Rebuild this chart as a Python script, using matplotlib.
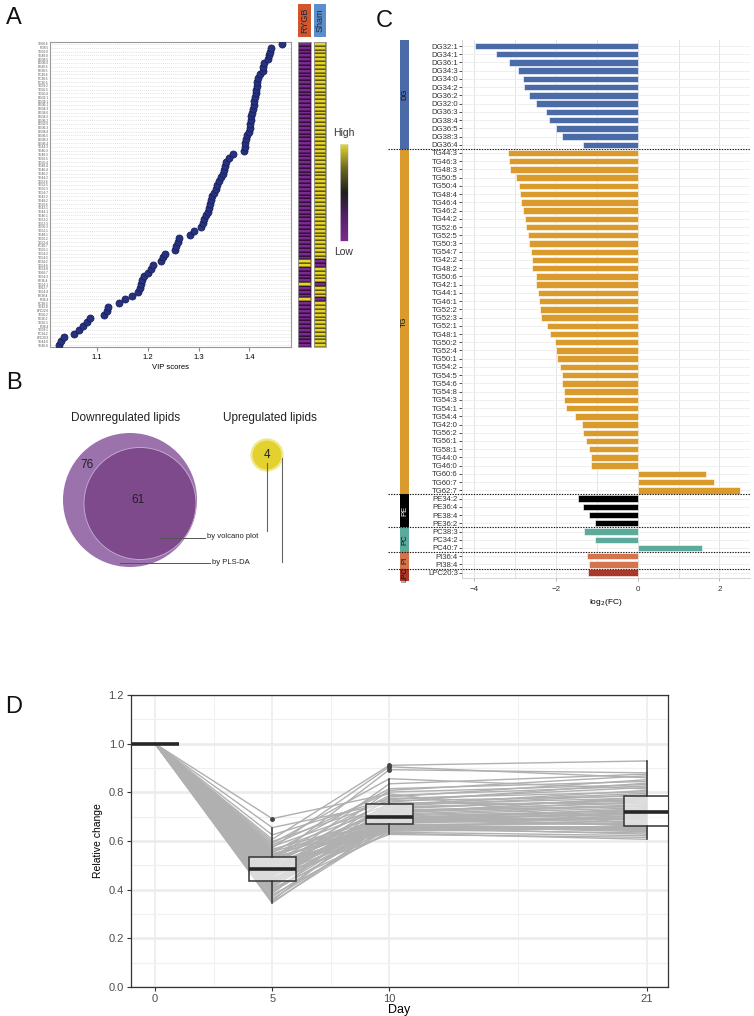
import re
import numpy as np
import matplotlib
matplotlib.use('Agg')
import matplotlib.pyplot as plt
from matplotlib.colors import LinearSegmentedColormap, Normalize
from matplotlib.cm import ScalarMappable
from matplotlib.patches import Circle, Rectangle

plt.rcParams['font.family'] = ['Liberation Sans', 'DejaVu Sans']

# ---------------- data ----------------
# panel A: VIP scores, bottom -> top
vip_scores = [1.025, 1.030, 1.036, 1.055, 1.065, 1.073, 1.080, 1.087, 1.114, 1.120,
              1.122, 1.144, 1.156, 1.168, 1.181, 1.184, 1.186, 1.189, 1.193, 1.201,
              1.206, 1.210, 1.226, 1.229, 1.233, 1.253, 1.255, 1.259, 1.262, 1.284,
              1.291, 1.305, 1.308, 1.310, 1.314, 1.318, 1.320, 1.322, 1.325, 1.327,
              1.331, 1.334, 1.337, 1.340, 1.345, 1.348, 1.350, 1.352, 1.355, 1.359,
              1.368, 1.389, 1.391, 1.392, 1.393, 1.396, 1.399, 1.401, 1.402, 1.403,
              1.404, 1.405, 1.407, 1.409, 1.410, 1.412, 1.414, 1.414, 1.415, 1.416,
              1.418, 1.421, 1.427, 1.427, 1.429, 1.436, 1.438, 1.441, 1.442, 1.465]
vip_lipids = ['TG46:0', 'TG44:0', 'LPC20:3', 'PC34:2', 'TG58:1', 'PI38:4', 'TG56:1', 'PE36:2',
              'TG56:2', 'LPC22:6', 'TG42:0', 'PC38:3', 'PI36:4', 'PE38:4', 'TG54:4', 'TG62:7',
              'TG54:1', 'PE36:4', 'TG54:3', 'TG60:7', 'TG54:8', 'TG54:6', 'PE34:2', 'TG54:5',
              'TG54:2', 'TG50:1', 'PC40:7', 'TG52:4', 'TG50:2', 'TG48:1', 'TG52:1', 'TG56:3',
              'TG52:3', 'TG52:2', 'TG46:1', 'TG44:1', 'TG42:1', 'TG50:6', 'TG48:2', 'TG42:2',
              'TG54:7', 'TG50:3', 'TG52:5', 'TG52:6', 'TG44:2', 'TG46:2', 'TG46:4', 'TG48:4',
              'TG50:4', 'TG50:5', 'TG48:3', 'TG46:3', 'TG44:3', 'DG36:4', 'DG38:3', 'DG36:5',
              'DG38:4', 'DG36:3', 'DG32:0', 'DG36:2', 'DG34:2', 'DG34:0', 'DG34:3', 'DG36:1',
              'DG34:1', 'DG32:1', 'TG56:4', 'TG56:5', 'TG58:2', 'PC36:5', 'PC38:5', 'PC40:6',
              'PE38:5', 'PE40:6', 'DG36:0', 'DG38:5', 'TG48:0', 'TG50:0', 'PI38:5', 'TG60:6']
# heatmap levels, top -> bottom (-1 low, 1 high)
rygb_level = [-1, -1, -1, -1, -1, -1, -1, -1, -1, -1,
              -1, -1, -1, -1, -1, -1, -1, -1, -1, -1,
              -1, -1, -1, -1, -1, -1, -1, -1, -1, -1,
              -1, -1, -1, -1, -1, -1, -1, -1, -1, -1,
              -1, -1, -1, -1, -1, -1, -1, -1, -1, -1,
              -1, -1, -1, -1, -1, -1, -1, 1, 1, -1,
              -1, -1, -1, 1, -1, -1, -1, 1, -1, -1,
              -1, -1, -1, -1, -1, -1, -1, -1, -1, -1]
sham_level = [1, 1, 1, 1, 1, 1, 1, 1, 1, 1,
              1, 1, 1, 1, 1, 1, 1, 1, 1, 1,
              1, 1, 1, 1, 1, 1, 1, 1, 1, 1,
              1, 1, 1, 1, 1, 1, 1, 1, 1, 1,
              1, 1, 1, 1, 1, 1, 1, 1, 1, 1,
              1, 1, 1, 1, 1, 1, 1, -1, -1, 1,
              1, 1, 1, -1, 1, 1, 1, -1, 1, 1,
              1, 1, 1, 1, 1, 1, 1, 1, 1, 1]

# panel B: venn counts
n_down_plsda = 76
n_down_both = 61
n_up = 4

# panel C: log2 fold change, top -> bottom
fc_lipids = ['DG32:1', 'DG34:1', 'DG36:1', 'DG34:3', 'DG34:0', 'DG34:2', 'DG36:2', 'DG32:0',
             'DG36:3', 'DG38:4', 'DG36:5', 'DG38:3', 'DG36:4',
             'TG44:3', 'TG46:3', 'TG48:3', 'TG50:5', 'TG50:4', 'TG48:4', 'TG46:4', 'TG46:2',
             'TG44:2', 'TG52:6', 'TG52:5', 'TG50:3', 'TG54:7', 'TG42:2', 'TG48:2', 'TG50:6',
             'TG42:1', 'TG44:1', 'TG46:1', 'TG52:2', 'TG52:3', 'TG52:1', 'TG48:1', 'TG50:2',
             'TG52:4', 'TG50:1', 'TG54:2', 'TG54:5', 'TG54:6', 'TG54:8', 'TG54:3', 'TG54:1',
             'TG54:4', 'TG42:0', 'TG56:2', 'TG56:1', 'TG58:1', 'TG44:0', 'TG46:0', 'TG60:6',
             'TG60:7', 'TG62:7',
             'PE34:2', 'PE36:4', 'PE38:4', 'PE36:2',
             'PC38:3', 'PC34:2', 'PC40:7',
             'PI36:4', 'PI38:4',
             'LPC20:3']
log2_fc = [-3.99, -3.46, -3.16, -2.92, -2.81, -2.79, -2.65, -2.50, -2.24, -2.18, -2.00, -1.84, -1.33,
           -3.17, -3.16, -3.13, -2.99, -2.90, -2.89, -2.86, -2.81, -2.77, -2.73, -2.68, -2.65,
           -2.62, -2.59, -2.59, -2.49, -2.48, -2.45, -2.41, -2.40, -2.37, -2.21, -2.15, -2.03,
           -1.99, -1.98, -1.91, -1.86, -1.84, -1.81, -1.80, -1.76, -1.53, -1.37, -1.33, -1.26,
           -1.20, -1.14, -1.13, 1.67, 1.86, 2.50,
           -1.46, -1.33, -1.18, -1.04,
           -1.32, -1.04, 1.58,
           -1.23, -1.18,
           -1.21]
class_colors = {'DG': '#4B6AA8', 'TG': '#DB9A2C', 'PE': '#000000',
                'PC': '#5BAA9C', 'PI': '#D4734C', 'LPC': '#A9382A'}

# panel D: relative change per lipid
days = [0, 5, 10, 21]
day5 = [0.345, 0.350, 0.355, 0.362, 0.370, 0.378, 0.385, 0.392, 0.398, 0.405,
        0.410, 0.416, 0.421, 0.426, 0.430, 0.433, 0.435, 0.440, 0.444, 0.448,
        0.452, 0.455, 0.459, 0.462, 0.465, 0.468, 0.471, 0.473, 0.476, 0.478,
        0.480, 0.482, 0.483, 0.487, 0.490, 0.494, 0.497, 0.500, 0.504, 0.507,
        0.511, 0.514, 0.518, 0.521, 0.525, 0.528, 0.531, 0.533, 0.535, 0.539,
        0.543, 0.548, 0.552, 0.556, 0.561, 0.566, 0.571, 0.577, 0.583, 0.590,
        0.598, 0.607, 0.625, 0.655, 0.692]
day10 = [0.680, 0.655, 0.724, 0.663, 0.700, 0.640, 0.747, 0.670, 0.689, 0.632,
         0.710, 0.676, 0.760, 0.659, 0.693, 0.644, 0.736, 0.666, 0.703, 0.627,
         0.781, 0.684, 0.650, 0.713, 0.672, 0.808, 0.691, 0.664, 0.728, 0.647,
         0.752, 0.686, 0.661, 0.717, 0.674, 0.835, 0.697, 0.657, 0.744, 0.678,
         0.770, 0.636, 0.706, 0.682, 0.893, 0.668, 0.732, 0.653, 0.787, 0.694,
         0.720, 0.665, 0.815, 0.688, 0.740, 0.696, 0.905, 0.750, 0.801, 0.856,
         0.765, 0.911, 0.775, 0.756, 0.794]
day21 = [0.702, 0.628, 0.757, 0.682, 0.660, 0.653, 0.808, 0.642, 0.733, 0.607,
         0.745, 0.690, 0.838, 0.648, 0.712, 0.659, 0.769, 0.674, 0.725, 0.615,
         0.852, 0.666, 0.661, 0.781, 0.698, 0.868, 0.678, 0.638, 0.741, 0.633,
         0.796, 0.715, 0.657, 0.749, 0.705, 0.875, 0.686, 0.651, 0.790, 0.694,
         0.820, 0.622, 0.737, 0.718, 0.880, 0.670, 0.773, 0.645, 0.826, 0.721,
         0.761, 0.655, 0.845, 0.709, 0.765, 0.729, 0.860, 0.777, 0.832, 0.814,
         0.785, 0.929, 0.802, 0.753, 0.662]
day0 = [1.0] * len(day5)

# ---------------- layout helpers ----------------
W, H = 754, 1016
fig = plt.figure(figsize=(W / 100, H / 100), dpi=100)


def rect(x0, y0, x1, y1):
    # pixel box (top-left origin) -> figure fraction
    return [x0 / W, 1 - y1 / H, (x1 - x0) / W, (y1 - y0) / H]


def ftext(x, y, s, **kw):
    fig.text(x / W, 1 - y / H, s, **kw)


for letter, (lx, ly) in zip('ABCD', [(14, 18), (14, 383), (384, 21), (14, 707)]):
    ftext(lx, ly, letter, fontsize=17, ha='center', va='center', color='#111111')

# ---------------- panel A ----------------
ax_a = fig.add_axes(rect(50, 42, 291, 347))
rows = np.arange(len(vip_scores))
for r in rows:
    ax_a.axhline(r, color='#C8C8C8', lw=0.5, ls=(0, (1, 2)), zorder=0)
ax_a.scatter(vip_scores, rows, s=26, color='#26317F', edgecolor='#141A55', lw=0.5, zorder=3)
ax_a.set_ylim(-0.5, len(vip_scores) - 0.5)
ax_a.set_xlim(1.0075, 1.482)
ax_a.set_yticks(rows)
ax_a.set_yticklabels(vip_lipids, fontsize=2.3, color='#555555')
ax_a.tick_params(axis='y', length=0, pad=1)
ax_a.set_xticks([1.1, 1.2, 1.3, 1.4])
ax_a.tick_params(axis='x', labelsize=5.5, length=3, color='#888888', pad=2)
ax_a.set_xlabel('VIP scores', fontsize=5.5, labelpad=2)
for sp in ax_a.spines.values():
    sp.set_color('#999999')
    sp.set_linewidth(0.8)

heat_cmap = LinearSegmentedColormap.from_list(
    'purple_yellow', ['#7B2A90', '#55206A', '#1E1E1E', '#6C6722', '#E4D52E'])
for (x0, x1), levels in zip([(298, 311), (313.7, 326)], [rygb_level, sham_level]):
    ax_h = fig.add_axes(rect(x0, 42, x1, 347))
    z = np.array(levels[::-1], dtype=float).reshape(-1, 1)
    ax_h.pcolormesh(z, cmap=heat_cmap, vmin=-1, vmax=1,
                    edgecolor=(0, 0, 0, 0.35), linewidth=0.35)
    ax_h.set_xticks([])
    ax_h.set_yticks([])
    for sp in ax_h.spines.values():
        sp.set_color('#999999')
        sp.set_linewidth(0.6)

for (x0, x1), name, col in zip([(298, 311), (313.7, 326)], ['RYGB', 'Sham'],
                               ['#D2552B', '#5B8FCB']):
    ax_lab = fig.add_axes(rect(x0, 4, x1, 37))
    ax_lab.set_facecolor(col)
    ax_lab.set_xticks([])
    ax_lab.set_yticks([])
    for sp in ax_lab.spines.values():
        sp.set_visible(False)
    ax_lab.text(0.5, 0.5, name, rotation=90, ha='center', va='center',
                fontsize=6.5, color='#1E2A3A', transform=ax_lab.transAxes)

ax_cb = fig.add_axes(rect(340, 144, 348, 241))
cb = fig.colorbar(ScalarMappable(norm=Normalize(-1, 1), cmap=heat_cmap), cax=ax_cb)
cb.set_ticks([])
cb.outline.set_edgecolor('#DDDDDD')
cb.outline.set_linewidth(0.5)
ftext(344, 133, 'High', fontsize=7.5, ha='center', va='center', color='#333333')
ftext(344, 252, 'Low', fontsize=7.5, ha='center', va='center', color='#333333')

# ---------------- panel B ----------------
ax_b = fig.add_axes(rect(40, 400, 390, 585))
ax_b.set_xlim(40, 390)
ax_b.set_ylim(585, 400)
ax_b.axis('off')
ax_b.add_patch(Circle((130, 500), 67, facecolor='#9B72AB', edgecolor='none'))
ax_b.add_patch(Circle((140, 503.5), 56, facecolor='#7E4A8C', edgecolor='#C9AFD3', lw=0.6))
ax_b.add_patch(Circle((267, 455), 15.5, facecolor='#E2D12E', edgecolor='#F1E78E', lw=1.6))
ax_b.text(126, 418, 'Downregulated lipids', fontsize=8.5, ha='center', va='center', color='#222222')
ax_b.text(270, 418, 'Upregulated lipids', fontsize=8.5, ha='center', va='center', color='#222222')
ax_b.text(87, 465, str(n_down_plsda), fontsize=8.5, ha='center', va='center', color='#222222')
ax_b.text(138, 500, str(n_down_both), fontsize=8.5, ha='center', va='center', color='#222222')
ax_b.text(267, 455, str(n_up), fontsize=8.5, ha='center', va='center', color='#222222')
ax_b.plot([160, 205], [538, 538], color='#555555', lw=0.7)
ax_b.plot([120, 210], [563, 563], color='#555555', lw=0.7)
ax_b.text(207, 537, 'by volcano plot', fontsize=5.5, ha='left', va='center', color='#222222')
ax_b.text(212, 562, 'by PLS-DA', fontsize=5.5, ha='left', va='center', color='#222222')
ax_b.plot([267, 267], [463, 531], color='#666666', lw=0.8)
ax_b.plot([282, 282], [458, 562], color='#666666', lw=0.8)

# ---------------- panel C ----------------
ax_c = fig.add_axes(rect(462, 40, 750, 578))
yc = np.arange(len(fc_lipids))
fc_class = [re.match(r'[A-Z]+', n).group(0) for n in fc_lipids]
ax_c.barh(yc, log2_fc, height=0.78, color=[class_colors[c] for c in fc_class],
          edgecolor='white', linewidth=0.4, zorder=3)
ylim_c = (len(fc_lipids) - 1 + 0.65, -0.73)
ax_c.set_ylim(*ylim_c)
ax_c.set_xlim(-4.3, 2.75)
ax_c.set_yticks(yc)
ax_c.set_yticklabels(fc_lipids, fontsize=5.6, color='#333333')
ax_c.set_xticks([-4, -2, 0, 2])
ax_c.set_xticks([-3, -1, 1], minor=True)
ax_c.tick_params(axis='y', length=2, width=0.6, color='#333333', pad=1)
ax_c.tick_params(axis='x', labelsize=5.8, length=2, width=0.5, color='#999999', labelcolor='#333333')
ax_c.tick_params(axis='x', which='minor', length=0)
ax_c.grid(axis='x', which='both', color='#E4E4E4', lw=0.7, zorder=0)
ax_c.grid(axis='y', color='#ECECEC', lw=0.6, zorder=0)
ax_c.set_axisbelow(True)
ax_c.set_xlabel('log$_2$(FC)', fontsize=6, labelpad=3)
for side in ['top', 'right']:
    ax_c.spines[side].set_visible(False)
for side in ['left', 'bottom']:
    ax_c.spines[side].set_color('#CCCCCC')
    ax_c.spines[side].set_linewidth(0.6)

# class strip and separators
ax_s = fig.add_axes(rect(388, 40, 750, 578))
ax_s.set_xlim(388, 750)
ax_s.set_ylim(*ylim_c)
ax_s.axis('off')
ax_s.patch.set_alpha(0)
groups = []
for i, c in enumerate(fc_class):
    if not groups or groups[-1][0] != c:
        groups.append([c, i, i])
    else:
        groups[-1][2] = i
for gi, (c, start, end) in enumerate(groups):
    top = start - 0.5 if gi > 0 else ylim_c[1]
    bot = end + 0.5 if gi < len(groups) - 1 else ylim_c[0] + 0.35
    ax_s.add_patch(Rectangle((400, top), 9, bot - top, facecolor=class_colors[c],
                             edgecolor='none', clip_on=False))
    ax_s.text(404.5, (top + bot) / 2, c, rotation=90, ha='center', va='center',
              fontsize=5.5, color='white' if c == 'PE' else '#111111')
    if gi < len(groups) - 1:
        ax_s.plot([388, 750], [end + 0.5, end + 0.5], color='#111111', lw=0.8,
                  ls=(0, (1.2, 1.2)), clip_on=False)

# ---------------- panel D ----------------
ax_d = fig.add_axes(rect(131, 695, 668, 987))
series = np.array([day0, day5, day10, day21])
for j in range(series.shape[1]):
    ax_d.plot(days, series[:, j], color='#B0B0B0', lw=1.0, zorder=2)
ax_d.boxplot([day0, day5, day10, day21], positions=days, widths=2, patch_artist=True,
             showcaps=False, manage_ticks=False,
             boxprops=dict(facecolor=(1, 1, 1, 0.55), edgecolor='#333333', lw=1.1),
             whiskerprops=dict(color='#333333', lw=1.1),
             medianprops=dict(color='#262626', lw=2.6),
             flierprops=dict(marker='o', markersize=2.5, markerfacecolor='#444444',
                             markeredgecolor='#444444'),
             zorder=3)
ax_d.set_xlim(-1.03, 21.9)
ax_d.set_ylim(0, 1.2)
ax_d.set_xticks(days)
ax_d.set_xticks([2.5, 7.5, 15.5], minor=True)
ax_d.set_yticks(np.arange(0, 1.21, 0.2))
ax_d.set_yticks(np.arange(0.1, 1.2, 0.2), minor=True)
ax_d.set_yticklabels(['0.0', '0.2', '0.4', '0.6', '0.8', '1.0', '1.2'])
ax_d.grid(axis='y', which='major', color='#EBEBEB', lw=1.8, zorder=0)
ax_d.grid(axis='y', which='minor', color='#F0F0F0', lw=0.9, zorder=0)
ax_d.grid(axis='x', which='major', color='#EBEBEB', lw=1.1, zorder=0)
ax_d.grid(axis='x', which='minor', color='#F0F0F0', lw=0.7, zorder=0)
ax_d.set_axisbelow(True)
ax_d.tick_params(which='major', labelsize=8, labelcolor='#4D4D4D', length=3, width=0.8,
                 color='#333333', pad=2)
ax_d.tick_params(which='minor', length=0)
for sp in ax_d.spines.values():
    sp.set_color('#333333')
    sp.set_linewidth(0.9)
ax_d.set_xlabel('Day', fontsize=9, labelpad=0)
ax_d.set_ylabel('Relative change', fontsize=7.5, labelpad=4)

fig.savefig('out.png', dpi=100)
